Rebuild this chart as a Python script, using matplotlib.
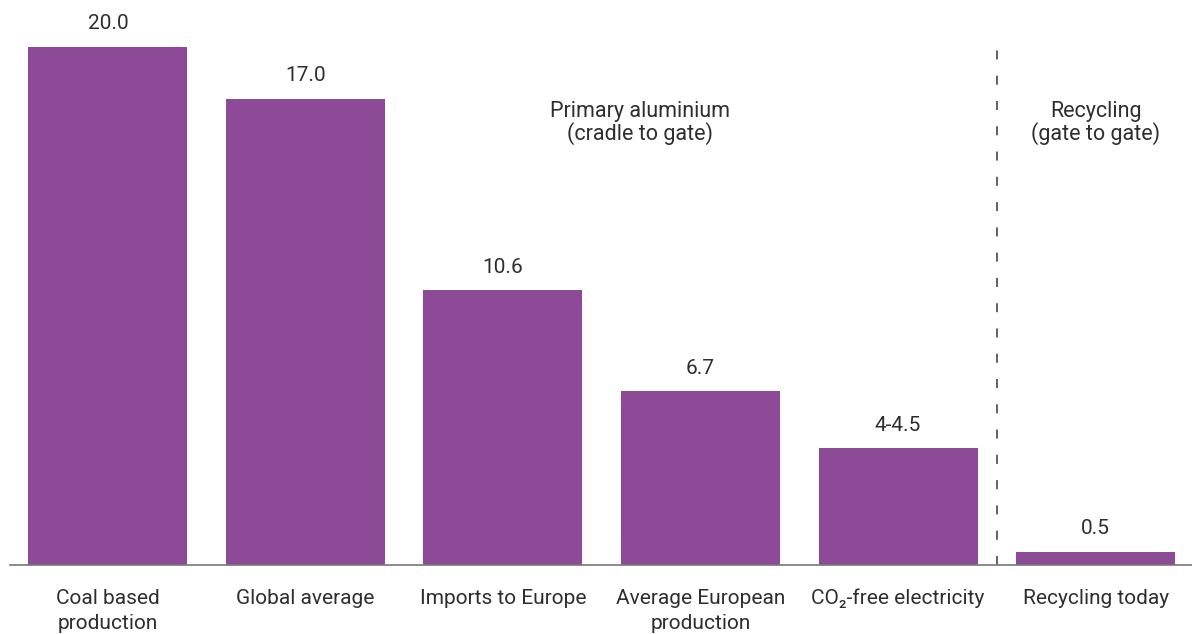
import matplotlib
matplotlib.use("Agg")
import matplotlib.pyplot as plt

plt.rcParams['font.family'] = ['Roboto', 'DejaVu Sans']

# data
categories = ["Coal based\nproduction", "Global average", "Imports to Europe",
              "Average European\nproduction", "CO\u2082-free electricity", "Recycling today"]
heights = [20.0, 18.0, 10.6, 6.7, 4.5, 0.5]
value_labels = ["20.0", "17.0", "10.6", "6.7", "4-4.5", "0.5"]
section_labels = ["Primary aluminium\n(cradle to gate)", "Recycling\n(gate to gate)"]

bar_color = "#8C4A97"
text_color = "#2e2e2e"

fig = plt.figure(figsize=(11.92, 6.34), dpi=100)
ax = fig.add_axes([0.008, (634 - 565) / 634, 0.992, (565 - 47) / 634])

x = list(range(len(categories)))
ax.bar(x, heights, width=0.805, color=bar_color)
ax.set_xlim(-0.498, 5.488)
ax.set_ylim(0, 20)

for xi, h, lab in zip(x, heights, value_labels):
    ax.annotate(lab, (xi, h), xytext=(0, 10), textcoords="offset points",
                ha="center", va="bottom", fontsize=15, color=text_color)

for xi, cat in zip(x, categories):
    ax.annotate(cat, (xi, 0), xytext=(0, -17), textcoords="offset points",
                ha="center", va="top", fontsize=15, color=text_color,
                linespacing=1.45, annotation_clip=False)

# separator between primary and recycling
ax.plot([4.5, 4.5], [0, 20.2], color="#555555", lw=1.3, linestyle=(0, (5, 9)),
        clip_on=False)

ax.text(2.695, 17.9, section_labels[0], ha="center", va="top", fontsize=15.5,
        color=text_color, linespacing=1.0)
ax.text(5.0, 17.9, section_labels[1], ha="center", va="top", fontsize=15.5,
        color=text_color, linespacing=1.0)

for s in ["top", "right", "left"]:
    ax.spines[s].set_visible(False)
ax.spines["bottom"].set_color("#777777")
ax.spines["bottom"].set_linewidth(1.2)
ax.set_xticks([])
ax.set_yticks([])

fig.savefig("out.png", dpi=100)
